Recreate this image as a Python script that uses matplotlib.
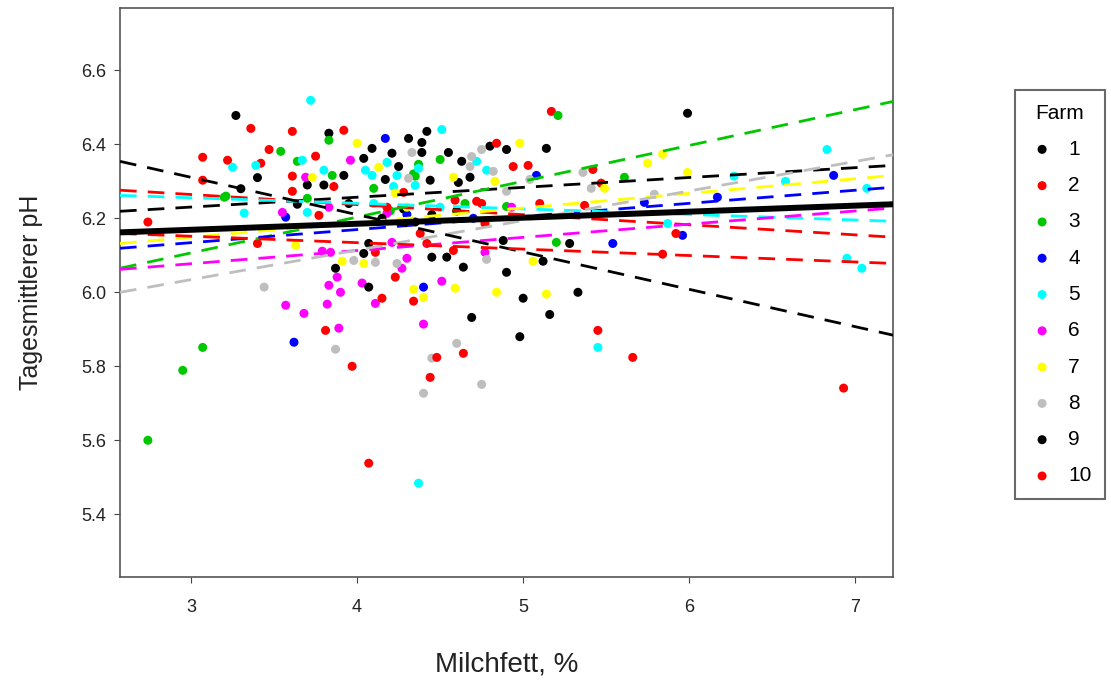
import matplotlib
matplotlib.use("Agg")
import matplotlib.pyplot as plt
import numpy as np

plt.rcParams['font.family'] = ['Liberation Sans', 'DejaVu Sans']

farms = ["1", "2", "3", "4", "5", "6", "7", "8", "9", "10"]
colors = ["#000000", "#ff0000", "#00c800", "#0000ff", "#00ffff",
          "#ff00ff", "#ffff00", "#bebebe", "#000000", "#ff0000"]

# Farm 1 (black)
f1_x = [3.83, 3.92, 3.70, 3.80, 4.42, 4.31, 4.39, 4.39, 4.09, 4.21, 4.04, 4.55,
        4.25, 4.17, 4.44, 4.63, 4.80, 4.90, 4.61, 4.68, 5.14, 5.99, 3.64, 4.28, 3.95]
f1_y = [6.430, 6.316, 6.290, 6.290, 6.435, 6.416, 6.405, 6.378, 6.389, 6.376, 6.362, 6.378,
        6.340, 6.305, 6.303, 6.354, 6.395, 6.386, 6.297, 6.311, 6.389, 6.484, 6.238, 6.225, 6.240]
# Farm 9 (black)
f9_x = [3.27, 3.40, 3.30, 5.28, 5.12, 4.90, 4.88, 4.45, 4.54, 4.64, 5.00, 5.33,
        4.69, 5.16, 4.98, 4.07, 4.04, 4.07, 3.87, 4.45, 4.35, 4.15, 4.60]
f9_y = [6.478, 6.310, 6.280, 6.132, 6.084, 6.054, 6.140, 6.095, 6.095, 6.068, 5.984, 6.000,
        5.932, 5.940, 5.880, 6.132, 6.105, 6.014, 6.065, 6.210, 6.190, 6.200, 6.220]
# Farm 2 (red)
f2_x = [3.07, 3.36, 3.61, 3.92, 3.47, 3.22, 3.75, 3.61, 3.07, 3.86, 3.77, 3.61,
        3.42, 5.17, 4.84, 4.94, 5.03, 5.42, 5.47, 5.10, 4.72, 4.75, 4.59, 4.28]
f2_y = [6.365, 6.443, 6.435, 6.438, 6.386, 6.357, 6.368, 6.314, 6.303, 6.286, 6.208, 6.273,
        6.349, 6.489, 6.403, 6.340, 6.343, 6.332, 6.295, 6.240, 6.246, 6.240, 6.249, 6.270]
# Farm 10 (red)
f10_x = [2.74, 3.40, 5.92, 4.38, 4.42, 4.58, 4.77, 4.34, 5.45, 5.66, 4.48, 4.64,
         4.44, 5.84, 5.37, 3.81, 3.97, 4.23, 4.15, 4.11, 4.07, 6.93, 4.18]
f10_y = [6.190, 6.132, 6.159, 6.159, 6.132, 6.113, 6.186, 5.976, 5.897, 5.824, 5.824, 5.835,
         5.770, 6.103, 6.235, 5.897, 5.800, 6.041, 5.984, 6.108, 5.538, 5.741, 6.230]
# Farm 3 (green)
f3_x = [2.74, 2.95, 3.07, 3.54, 3.20, 3.83, 3.64, 3.85, 4.10, 3.70, 4.34, 5.21,
        4.50, 4.37, 4.90, 5.61, 5.20, 4.35, 4.20, 4.65, 3.21]
f3_y = [5.600, 5.789, 5.851, 6.381, 6.257, 6.411, 6.354, 6.316, 6.281, 6.254, 6.320, 6.478,
        6.359, 6.346, 6.232, 6.311, 6.135, 6.314, 6.220, 6.240, 6.260]
# Farm 4 (blue)
f4_x = [4.17, 3.57, 5.08, 5.73, 5.96, 5.54, 6.87, 6.17, 3.62, 4.40, 4.30, 4.70]
f4_y = [6.416, 6.203, 6.316, 6.243, 6.154, 6.132, 6.316, 6.257, 5.865, 6.014, 6.210, 6.200]
# Farm 5 (cyan)
f5_x = [3.72, 3.25, 3.39, 3.32, 3.67, 3.80, 4.05, 4.09, 4.18, 4.24, 4.22, 4.35,
        3.70, 4.51, 4.37, 4.72, 4.78, 6.83, 6.27, 6.58, 7.07, 5.87, 6.95, 7.04,
        5.45, 4.37, 4.10, 4.50]
f5_y = [6.519, 6.338, 6.343, 6.214, 6.357, 6.330, 6.330, 6.316, 6.351, 6.316, 6.286, 6.289,
        6.216, 6.440, 6.335, 6.354, 6.330, 6.386, 6.314, 6.300, 6.281, 6.186, 6.092, 6.065,
        5.851, 5.484, 6.240, 6.230]
# Farm 6 (magenta)
f6_x = [3.96, 3.69, 3.55, 4.18, 3.79, 3.84, 3.57, 3.68, 3.83, 3.88, 3.90, 3.82,
        3.89, 4.03, 4.11, 4.27, 4.30, 3.83, 4.40, 4.51, 4.77, 4.93, 4.21]
f6_y = [6.357, 6.311, 6.216, 6.214, 6.111, 6.108, 5.965, 5.943, 6.019, 6.041, 6.000, 5.968,
        5.903, 6.025, 5.970, 6.065, 6.092, 6.230, 5.914, 6.030, 6.108, 6.230, 6.135]
# Farm 7 (yellow)
f7_x = [4.00, 4.13, 3.73, 3.63, 4.23, 4.58, 4.83, 4.98, 5.75, 5.84, 5.49, 5.99,
        5.06, 4.34, 4.40, 4.59, 4.84, 5.14, 3.91, 4.04, 4.30, 4.60]
f7_y = [6.403, 6.338, 6.311, 6.127, 6.268, 6.311, 6.300, 6.403, 6.349, 6.373, 6.281, 6.324,
        6.084, 6.008, 5.986, 6.011, 6.000, 5.995, 6.084, 6.078, 6.230, 6.220]
# Farm 8 (grey)
f8_x = [4.33, 4.31, 4.69, 4.75, 5.04, 5.36, 5.41, 4.90, 5.79, 4.68, 4.82, 3.44,
        3.87, 4.11, 4.24, 4.60, 4.45, 4.40, 4.75, 4.78, 3.98]
f8_y = [6.378, 6.308, 6.367, 6.386, 6.305, 6.324, 6.281, 6.273, 6.265, 6.340, 6.327, 6.014,
        5.846, 6.081, 6.078, 5.862, 5.822, 5.727, 5.751, 6.089, 6.086]

farm_x = [f1_x, f2_x, f3_x, f4_x, f5_x, f6_x, f7_x, f8_x, f9_x, f10_x]
farm_y = [f1_y, f2_y, f3_y, f4_y, f5_y, f6_y, f7_y, f8_y, f9_y, f10_y]

# Per-farm regression lines: pH at the left and right x-limits
line_x = [2.572, 7.229]
line_left = [6.219, 6.276, 6.065, 6.119, 6.262, 6.062, 6.132, 6.000, 6.354, 6.159]
line_right = [6.343, 6.149, 6.516, 6.284, 6.192, 6.228, 6.316, 6.372, 5.884, 6.078]
overall_left, overall_right = 6.162, 6.238

fig = plt.figure(figsize=(11.11, 6.83), dpi=100)
ax = fig.add_axes([0.108, 0.155, 0.696, 0.833])

for i in range(len(farms)):
    ax.scatter(farm_x[i], farm_y[i], s=42, color=colors[i], edgecolors='none',
               zorder=2, label=farms[i])

for i in range(len(farms)):
    ax.plot(line_x, [line_left[i], line_right[i]], color=colors[i], lw=2.0,
            dashes=(6, 4), zorder=3)

ax.plot(line_x, [overall_left, overall_right], color='black', lw=4.3, zorder=4)

ax.set_xlim(line_x)
ax.set_ylim(5.23, 6.768)
ax.set_xticks([3, 4, 5, 6, 7])
ax.set_yticks([5.4, 5.6, 5.8, 6.0, 6.2, 6.4, 6.6])
ax.set_yticklabels(["5.4", "5.6", "5.8", "6.0", "6.2", "6.4", "6.6"])
ax.tick_params(labelsize=13, length=4, color='#444444', labelcolor='#222222')
ax.tick_params(axis='x', pad=12)
ax.tick_params(axis='y', pad=6)
for sp in ax.spines.values():
    sp.set_color('#555555')
    sp.set_linewidth(1.2)

ax.set_xlabel("Milchfett, %", fontsize=20, color='#222222')
ax.set_ylabel("Tagesmittlerer pH", fontsize=18, color='#222222')
ax.xaxis.set_label_coords(0.5, -0.13)
ax.yaxis.set_label_coords(-0.1, 0.5)

leg = fig.legend(loc='upper left', bbox_to_anchor=(1015 / 1111, 1 - 90 / 683),
                 borderaxespad=0.0,
                 title="Farm", fontsize=15, title_fontsize=15, frameon=True,
                 fancybox=False, edgecolor='#444444', labelspacing=0.83,
                 handletextpad=0.6, borderpad=0.65, markerscale=1.0, handlelength=1.3)
leg.get_frame().set_linewidth(1.5)

fig.savefig("out.png", dpi=100)
